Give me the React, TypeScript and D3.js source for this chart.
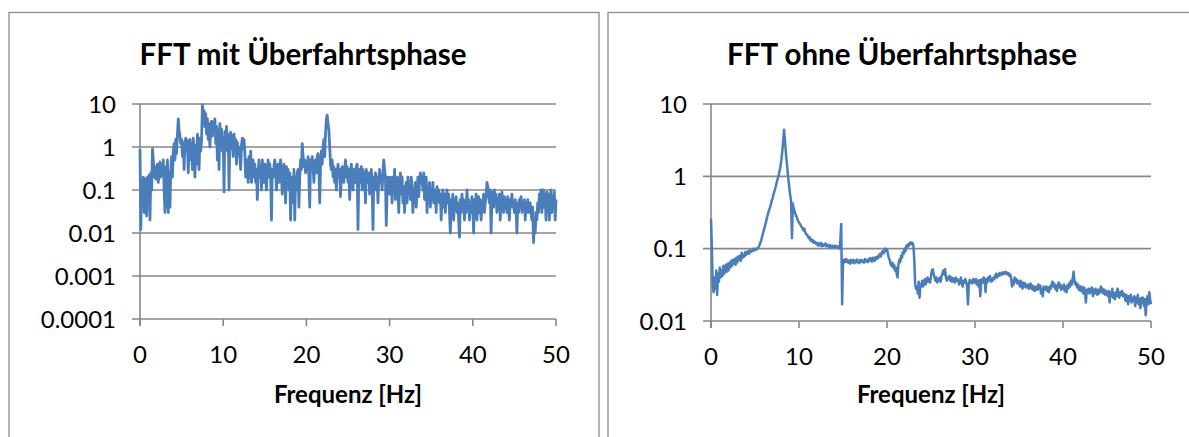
import React from "react";
import * as d3 from "d3";

// Frequency resolution of both spectra (bins every 0.1 Hz from 0 to 50 Hz)
const BIN_HZ = 0.1;

// FFT amplitude including the crossing phase, 0–50 Hz
const fftMitUeberfahrt: number[] = [
  0.9, 0.012, 0.15, 0.05, 0.2, 0.03, 0.18, 0.1, 0.025, 0.2,
  0.12, 0.22, 0.02, 0.25, 0.1, 0.9, 0.5, 0.2, 0.35, 0.18,
  0.25, 0.4, 0.15, 0.3, 0.45, 0.2, 0.35, 0.28, 0.5, 0.1,
  0.03, 0.35, 0.04, 0.5, 0.03, 0.25, 0.04, 0.3, 0.6, 0.2,
  0.8, 1.2, 0.5, 1.5, 0.7, 2.0, 4.5, 2.5, 1.8, 1.2,
  1.5, 0.6, 1.3, 0.3, 1.2, 1.6, 0.8, 1.4, 0.25, 1.0,
  1.5, 0.5, 1.2, 0.3, 1.6, 0.7, 0.2, 1.1, 0.4, 2.0,
  1.0, 0.3, 1.6, 0.8, 1.4, 9.5, 5.0, 7.0, 3.0, 6.0,
  2.0, 4.5, 1.5, 3.5, 1.0, 2.5, 4.0, 1.8, 3.8, 2.2,
  4.5, 1.2, 3.0, 0.5, 2.5, 0.3, 3.5, 1.4, 2.6, 0.8,
  1.6, 0.09, 2.3, 1.0, 3.0, 0.8, 2.0, 0.1, 1.5, 2.2,
  0.9, 1.8, 0.6, 2.0, 0.8, 1.5, 0.4, 1.3, 0.9, 1.0,
  0.6, 0.3, 1.1, 1.6, 0.9, 1.5, 0.7, 0.2, 0.5, 0.3,
  0.15, 0.6, 0.2, 0.8, 0.15, 0.3, 0.5, 0.2, 0.4, 0.15,
  0.3, 0.06, 0.25, 0.5, 0.2, 0.35, 0.1, 0.5, 0.25, 0.15,
  0.4, 0.2, 0.1, 0.3, 0.5, 0.2, 0.4, 0.25, 0.02, 0.3,
  0.2, 0.35, 0.5, 0.3, 0.1, 0.25, 0.4, 0.15, 0.3, 0.5,
  0.2, 0.08, 0.3, 0.4, 0.2, 0.05, 0.35, 0.2, 0.3, 0.1,
  0.25, 0.02, 0.2, 0.15, 0.05, 0.3, 0.02, 0.2, 0.1, 0.25,
  0.3, 0.04, 0.2, 0.5, 0.3, 1.2, 0.6, 0.35, 0.5, 0.25,
  0.4, 0.3, 0.6, 0.2, 0.04, 0.5, 0.3, 0.6, 0.35, 0.15,
  0.4, 0.5, 0.25, 0.6, 0.7, 0.3, 0.05, 0.35, 0.8, 0.4,
  1.0, 1.5, 0.6, 2.0, 4.5, 5.5, 3.5, 2.5, 1.0, 0.4,
  0.3, 0.5, 0.2, 0.35, 0.15, 0.3, 0.1, 0.25, 0.4, 0.2,
  0.3, 0.07, 0.2, 0.35, 0.25, 0.15, 0.3, 0.5, 0.2, 0.35,
  0.15, 0.3, 0.06, 0.25, 0.4, 0.2, 0.1, 0.3, 0.25, 0.15,
  0.35, 0.4, 0.012, 0.2, 0.3, 0.15, 0.35, 0.1, 0.3, 0.2,
  0.25, 0.05, 0.3, 0.2, 0.15, 0.25, 0.08, 0.2, 0.3, 0.15,
  0.012, 0.2, 0.15, 0.25, 0.1, 0.2, 0.05, 0.2, 0.3, 0.15,
  0.2, 0.1, 0.25, 0.5, 0.3, 0.2, 0.015, 0.1, 0.2, 0.15,
  0.08, 0.2, 0.12, 0.05, 0.2, 0.1, 0.3, 0.06, 0.15, 0.2,
  0.1, 0.03, 0.15, 0.25, 0.08, 0.2, 0.05, 0.12, 0.03, 0.1,
  0.15, 0.05, 0.2, 0.1, 0.15, 0.06, 0.2, 0.12, 0.03, 0.1,
  0.08, 0.15, 0.04, 0.1, 0.2, 0.07, 0.15, 0.25, 0.15, 0.2,
  0.1, 0.25, 0.06, 0.15, 0.2, 0.03, 0.12, 0.08, 0.15, 0.04,
  0.1, 0.06, 0.15, 0.05, 0.1, 0.08, 0.03, 0.12, 0.06, 0.1,
  0.05, 0.08, 0.02, 0.06, 0.1, 0.04, 0.08, 0.03, 0.07, 0.1,
  0.05, 0.08, 0.03, 0.01, 0.06, 0.04, 0.08, 0.02, 0.06, 0.04,
  0.07, 0.03, 0.05, 0.02, 0.008, 0.06, 0.03, 0.08, 0.04, 0.06,
  0.02, 0.05, 0.03, 0.1, 0.04, 0.06, 0.02, 0.05, 0.03, 0.07,
  0.04, 0.01, 0.06, 0.03, 0.08, 0.02, 0.05, 0.07, 0.03, 0.06,
  0.02, 0.05, 0.04, 0.08, 0.03, 0.05, 0.07, 0.15, 0.12, 0.08,
  0.05, 0.1, 0.01, 0.06, 0.09, 0.04, 0.1, 0.05, 0.08, 0.03,
  0.06, 0.04, 0.08, 0.02, 0.06, 0.09, 0.05, 0.03, 0.07, 0.05,
  0.06, 0.03, 0.07, 0.04, 0.02, 0.06, 0.05, 0.08, 0.04, 0.05,
  0.03, 0.06, 0.04, 0.01, 0.05, 0.03, 0.06, 0.04, 0.07, 0.03,
  0.05, 0.04, 0.06, 0.02, 0.05, 0.03, 0.06, 0.04, 0.03, 0.05,
  0.03, 0.02, 0.04, 0.006, 0.02, 0.01, 0.03, 0.02, 0.05, 0.03,
  0.08, 0.04, 0.1, 0.03, 0.07, 0.1, 0.04, 0.08, 0.02, 0.09,
  0.05, 0.08, 0.02, 0.06, 0.1, 0.03, 0.07, 0.04, 0.09, 0.02,
  0.06,
];

// FFT amplitude without the crossing phase, 0–50 Hz
const fftOhneUeberfahrt: number[] = [
  0.26, 0.1, 0.03, 0.025, 0.04, 0.028, 0.05, 0.023, 0.045, 0.035,
  0.055, 0.04, 0.05, 0.042, 0.058, 0.045, 0.052, 0.06, 0.048, 0.062,
  0.05, 0.064, 0.055, 0.068, 0.058, 0.07, 0.062, 0.072, 0.06, 0.075,
  0.065, 0.078, 0.07, 0.08, 0.068, 0.088, 0.075, 0.082, 0.078, 0.09,
  0.082, 0.088, 0.092, 0.085, 0.095, 0.09, 0.094, 0.092, 0.1, 0.096,
  0.095, 0.1, 0.098, 0.1, 0.105, 0.11, 0.12, 0.13, 0.145, 0.16,
  0.18, 0.2, 0.22, 0.25, 0.28, 0.31, 0.34, 0.37, 0.41, 0.46,
  0.5, 0.56, 0.62, 0.68, 0.76, 0.85, 0.95, 1.05, 1.2, 1.4,
  1.7, 2.2, 3.0, 4.4, 3.2, 2.2, 1.6, 1.2, 0.9, 0.7,
  0.55, 0.45, 0.14, 0.42, 0.36, 0.33, 0.3, 0.28, 0.26, 0.24,
  0.23, 0.22, 0.21, 0.2, 0.19, 0.18, 0.19, 0.17, 0.16, 0.155,
  0.15, 0.14, 0.145, 0.13, 0.135, 0.125, 0.13, 0.12, 0.125, 0.12,
  0.115, 0.12, 0.11, 0.118, 0.112, 0.12, 0.108, 0.115, 0.11, 0.112,
  0.118, 0.108, 0.114, 0.11, 0.105, 0.112, 0.108, 0.104, 0.11, 0.106,
  0.105, 0.11, 0.104, 0.108, 0.102, 0.106, 0.1, 0.13, 0.22, 0.017,
  0.06, 0.07, 0.065, 0.072, 0.066, 0.07, 0.064, 0.068, 0.062, 0.07,
  0.066, 0.064, 0.07, 0.063, 0.068, 0.065, 0.071, 0.066, 0.063, 0.069,
  0.065, 0.07, 0.066, 0.068, 0.064, 0.072, 0.067, 0.069, 0.065, 0.072,
  0.068, 0.074, 0.07, 0.066, 0.075, 0.07, 0.068, 0.076, 0.072, 0.078,
  0.074, 0.08, 0.085, 0.078, 0.088, 0.092, 0.086, 0.095, 0.1, 0.092,
  0.098, 0.085, 0.075, 0.07, 0.062, 0.058, 0.064, 0.055, 0.06, 0.05,
  0.055, 0.045, 0.04, 0.06, 0.07, 0.065, 0.08, 0.075, 0.09, 0.085,
  0.1, 0.092, 0.11, 0.105, 0.115, 0.11, 0.12, 0.122, 0.115, 0.12,
  0.11, 0.07, 0.032, 0.028, 0.03, 0.024, 0.035, 0.021, 0.032, 0.03,
  0.036, 0.03, 0.034, 0.038, 0.032, 0.036, 0.04, 0.035, 0.038, 0.034,
  0.042, 0.05, 0.052, 0.045, 0.04, 0.036, 0.04, 0.034, 0.038, 0.036,
  0.04, 0.035, 0.042, 0.045, 0.05, 0.044, 0.052, 0.04, 0.036, 0.04,
  0.038, 0.042, 0.036, 0.04, 0.035, 0.039, 0.037, 0.034, 0.04, 0.036,
  0.038, 0.035, 0.032, 0.036, 0.04, 0.033, 0.03, 0.036, 0.034, 0.038,
  0.035, 0.03, 0.017, 0.032, 0.037, 0.034, 0.036, 0.033, 0.038, 0.035,
  0.034, 0.038, 0.032, 0.036, 0.03, 0.037, 0.022, 0.035, 0.038, 0.034,
  0.04, 0.036, 0.025, 0.038, 0.034, 0.04, 0.037, 0.042, 0.035, 0.038,
  0.036, 0.04, 0.038, 0.042, 0.045, 0.04, 0.044, 0.042, 0.046, 0.043,
  0.045, 0.047, 0.044, 0.046, 0.048, 0.045, 0.047, 0.044, 0.046, 0.042,
  0.044, 0.04, 0.03, 0.036, 0.032, 0.04, 0.035, 0.038, 0.033, 0.036,
  0.034, 0.03, 0.036, 0.032, 0.028, 0.034, 0.03, 0.033, 0.029, 0.031,
  0.032, 0.028, 0.03, 0.033, 0.028, 0.031, 0.027, 0.03, 0.026, 0.029,
  0.03, 0.027, 0.032, 0.028, 0.031, 0.024, 0.028, 0.022, 0.03, 0.027,
  0.028, 0.03, 0.026, 0.029, 0.025, 0.03, 0.028, 0.032, 0.035, 0.03,
  0.033, 0.028, 0.031, 0.026, 0.03, 0.034, 0.029, 0.032, 0.027, 0.03,
  0.028, 0.032, 0.026, 0.03, 0.025, 0.031, 0.028, 0.033, 0.03, 0.036,
  0.032, 0.038, 0.048, 0.036, 0.032, 0.034, 0.029, 0.032, 0.027, 0.03,
  0.026, 0.03, 0.028, 0.024, 0.029, 0.026, 0.018, 0.027, 0.025, 0.028,
  0.024, 0.028, 0.025, 0.029, 0.022, 0.027, 0.024, 0.028, 0.026, 0.023,
  0.027, 0.024, 0.026, 0.03, 0.025, 0.028, 0.024, 0.027, 0.023, 0.026,
  0.024, 0.022, 0.026, 0.018, 0.025, 0.022, 0.028, 0.021, 0.024, 0.02,
  0.025, 0.022, 0.028, 0.024, 0.021, 0.025, 0.023, 0.026, 0.022, 0.024,
  0.022, 0.019, 0.023, 0.02, 0.017, 0.022, 0.019, 0.023, 0.018, 0.021,
  0.019, 0.022, 0.016, 0.021, 0.018, 0.023, 0.017, 0.02, 0.015, 0.021,
  0.018, 0.021, 0.016, 0.02, 0.012, 0.019, 0.022, 0.017, 0.025, 0.02,
  0.017,
];

const xTicks = [0, 10, 20, 30, 40, 50];
const yTicksMit = [0.0001, 0.001, 0.01, 0.1, 1, 10];
const yTicksOhne = [0.01, 0.1, 1, 10];
const xAxisTitle = "Frequenz [Hz]";

const FONT = "Lato, 'Open Sans', sans-serif";
const LINE_COLOR = "#4a7ebb";
const GRID_COLOR = "#878787";
const FRAME_COLOR = "#8c8c8c";

type PanelProps = {
  title: string;
  values: number[];
  yTicks: number[];
  frameX: number;
  plotLeft: number;
  plotRight: number;
  plotTop: number;
  plotBottom: number;
  titleX: number;
  lineWidth: number;
};

function Panel({ title, values, yTicks, frameX, plotLeft, plotRight, plotTop, plotBottom, titleX, lineWidth }: PanelProps) {
  const x = d3.scaleLinear().domain([0, 50]).range([plotLeft, plotRight]);
  const y = d3
    .scaleLog()
    .domain([yTicks[0], yTicks[yTicks.length - 1]])
    .range([plotBottom, plotTop]);

  const line = d3
    .line<number>()
    .x((_, i) => x(i * BIN_HZ))
    .y((v) => y(v));

  const fmt = (v: number) => String(v);

  return (
    <g>
      <rect x={frameX} y={12.5} width={590} height={440} fill="#fff" stroke={FRAME_COLOR} strokeWidth={1.3} />
      <text x={titleX} y={65} textAnchor="middle" fontFamily={FONT} fontWeight={700} fontSize={29.5} fill="#000">
        {title}
      </text>
      {yTicks.map((t) => (
        <g key={t}>
          <line x1={plotLeft - 8} x2={plotRight} y1={y(t)} y2={y(t)} stroke={GRID_COLOR} strokeWidth={1.6} />
          <text x={plotLeft - 24} y={y(t)} dy="0.36em" textAnchor="end" fontFamily={FONT} fontSize={24} fill="#000">
            {fmt(t)}
          </text>
        </g>
      ))}
      <line x1={plotLeft} x2={plotLeft} y1={plotTop} y2={plotBottom + 7} stroke={GRID_COLOR} strokeWidth={1.6} />
      {xTicks.map((t) => (
        <g key={t}>
          <line x1={x(t)} x2={x(t)} y1={plotBottom} y2={plotBottom + 7} stroke={GRID_COLOR} strokeWidth={1.6} />
          <text x={x(t)} y={plotBottom + 44} textAnchor="middle" fontFamily={FONT} fontSize={24} fill="#000">
            {t}
          </text>
        </g>
      ))}
      <path d={line(values) ?? ""} fill="none" stroke={LINE_COLOR} strokeWidth={lineWidth} strokeLinejoin="round" />
      <text
        x={(plotLeft + plotRight) / 2}
        y={403}
        textAnchor="middle"
        fontFamily={FONT}
        fontWeight={700}
        fontSize={24}
        fill="#000"
      >
        {xAxisTitle}
      </text>
    </g>
  );
}

export default function App() {
  return (
    <svg
      width={1189}
      height={437}
      viewBox="0 0 1189 437"
      style={{ position: "absolute", left: 0, top: 0, background: "#fff" }}
    >
      <rect width={1189} height={437} fill="#fff" />
      <Panel
        title="FFT mit Überfahrtsphase"
        values={fftMitUeberfahrt}
        yTicks={yTicksMit}
        frameX={9}
        plotLeft={140}
        plotRight={556}
        plotTop={104}
        plotBottom={319}
        titleX={303}
        lineWidth={2.8}
      />
      <Panel
        title="FFT ohne Überfahrtsphase"
        values={fftOhneUeberfahrt}
        yTicks={yTicksOhne}
        frameX={608}
        plotLeft={711}
        plotRight={1151}
        plotTop={104}
        plotBottom={321}
        titleX={902}
        lineWidth={2.5}
      />
    </svg>
  );
}
